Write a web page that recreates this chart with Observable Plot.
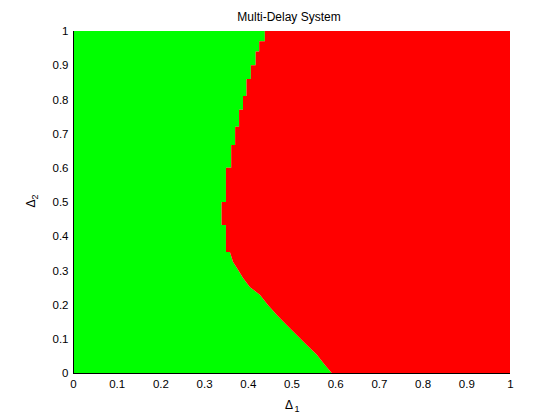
<!DOCTYPE html>
<html><head><meta charset="utf-8">
<script src="https://cdn.jsdelivr.net/npm/d3@7"></script>
<script src="https://cdn.jsdelivr.net/npm/@observablehq/plot@0.6"></script>
<style>body{margin:0;background:#fff}</style>
</head><body><div id="chart"></div>
<script>
const title = "Multi-Delay System";
const xLabel = "Δ";
const xLabelSub = "1";
const yLabel = "Δ";
const yLabelSub = "2";
const xTicks = [0, 0.1, 0.2, 0.3, 0.4, 0.5, 0.6, 0.7, 0.8, 0.9, 1];
const yTicks = [0, 0.1, 0.2, 0.3, 0.4, 0.5, 0.6, 0.7, 0.8, 0.9, 1];
// stability boundary: Δ2 (ascending) and the Δ1 where green turns red
const boundaryDelta2 = [0, 0.023, 0.053, 0.082, 0.111, 0.140, 0.170, 0.199, 0.228, 0.251, 0.278, 0.301, 0.325, 0.354,
  0.354, 0.433, 0.433, 0.50, 0.50, 0.60, 0.60, 0.667, 0.667, 0.72, 0.72, 0.77, 0.77, 0.81, 0.81, 0.86, 0.86, 0.90, 0.90, 0.94, 0.94, 0.97, 0.97, 1.0];
const boundaryDelta1 = [0.592, 0.577, 0.558, 0.535, 0.512, 0.489, 0.466, 0.446, 0.428, 0.405, 0.389, 0.378, 0.366, 0.359,
  0.350, 0.350, 0.340, 0.340, 0.350, 0.350, 0.362, 0.362, 0.371, 0.371, 0.380, 0.380, 0.389, 0.389, 0.397, 0.397, 0.407, 0.407, 0.418, 0.418, 0.426, 0.426, 0.439, 0.439];
const stableColor = "#00ff00";
const unstableColor = "#ff0000";

const rows = boundaryDelta2.map((d2, i) => ({d2, d1: boundaryDelta1[i]}));

const chart = Plot.plot({
  width: 560, height: 420,
  marginLeft: 73, marginRight: 50, marginTop: 31, marginBottom: 47,
  x: {domain: [0, 1]},
  y: {domain: [0, 1]},
  style: {fontFamily: "'Liberation Sans', Arial, sans-serif", fontSize: "11px", background: "white", color: "black"},
  marks: [
    Plot.areaX(rows, {y: "d2", x1: () => 0, x2: "d1", fill: stableColor}),
    Plot.areaX(rows, {y: "d2", x1: "d1", x2: () => 1, fill: unstableColor}),
    Plot.ruleX([0], {stroke: "black"}),
    Plot.ruleY([0], {stroke: "black"}),
    Plot.axisX({ticks: xTicks, tickSize: 0, tickPadding: 6, tickFormat: d => String(d), label: null, fontSize: 11.5}),
    Plot.axisY({ticks: yTicks, tickSize: 0, tickPadding: 5, tickFormat: d => String(d), label: null, fontSize: 11.5}),
    Plot.text([title], {frameAnchor: "top", dy: -14, dx: -3, lineAnchor: "middle", fontSize: 12}),
    Plot.text([xLabel], {frameAnchor: "bottom", dx: -3, dy: 32, lineAnchor: "middle", fontSize: 12}),
    Plot.text([xLabelSub], {frameAnchor: "bottom", dx: 5, dy: 36, lineAnchor: "middle", fontSize: 9}),
    Plot.text([yLabel], {frameAnchor: "left", dx: -42, dy: 5, rotate: -90, lineAnchor: "middle", fontSize: 12}),
    Plot.text([yLabelSub], {frameAnchor: "left", dx: -38, dy: -3, rotate: -90, lineAnchor: "middle", fontSize: 9})
  ]
});
document.getElementById("chart").appendChild(chart);
</script>
</body></html>
